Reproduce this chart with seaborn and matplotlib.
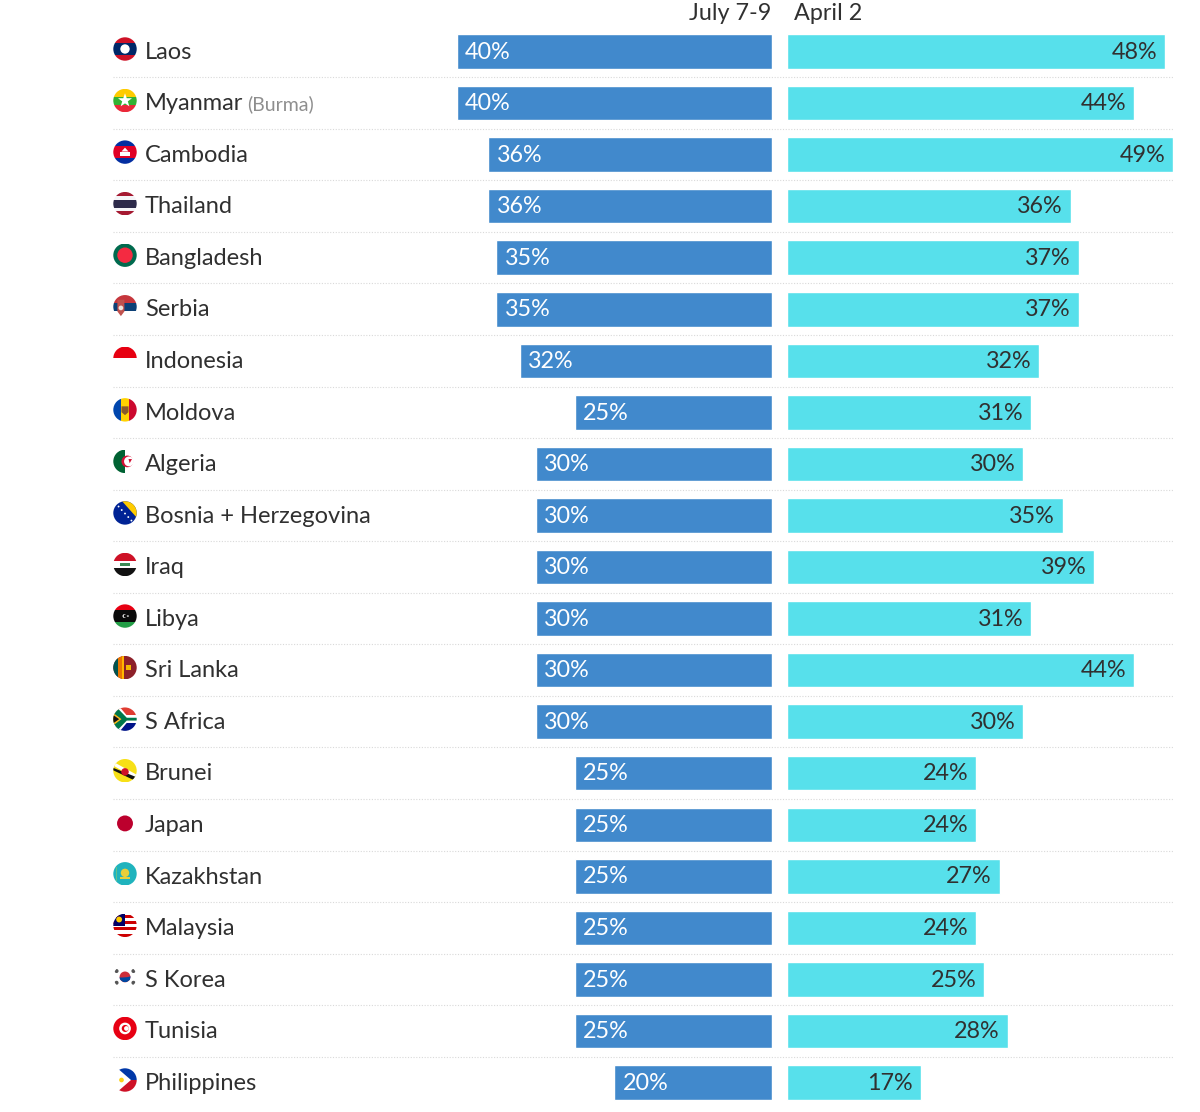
import matplotlib
matplotlib.use('Agg')
import matplotlib.pyplot as plt
from matplotlib.patches import Circle, Polygon, Rectangle
import pandas as pd
import seaborn as sns

countries = ['Laos', 'Myanmar', 'Cambodia', 'Thailand', 'Bangladesh', 'Serbia', 'Indonesia',
             'Moldova', 'Algeria', 'Bosnia + Herzegovina', 'Iraq', 'Libya', 'Sri Lanka',
             'S Africa', 'Brunei', 'Japan', 'Kazakhstan', 'Malaysia', 'S Korea', 'Tunisia',
             'Philippines']
july = [40, 40, 36, 36, 35, 35, 32, 25, 30, 30, 30, 30, 30, 30, 25, 25, 25, 25, 25, 25, 20]
april = [48, 44, 49, 36, 37, 37, 32, 31, 30, 35, 39, 31, 44, 30, 24, 24, 27, 24, 25, 28, 17]

W, H = 1200, 1112
ROW = 51.55
TOP = 51.5 - ROW / 2
BOTTOM = TOP + ROW * len(countries)
PX_PER_PCT = 7.88
BLUE = '#4189cc'
CYAN = '#57e0eb'
DARK = '#303030'

sns.set_style('white')
plt.rcParams['font.family'] = ['Lato', 'DejaVu Sans']

df = pd.DataFrame({'country': countries, 'july': july, 'april': april})
fig = plt.figure(figsize=(W / 100, H / 100), dpi=100)


def panel(x0, x1):
    return fig.add_axes([x0 / W, 1 - BOTTOM / H, (x1 - x0) / W, (BOTTOM - TOP) / H])


# overlay in pixel coordinates for row labels, rules and flags
ov = fig.add_axes([0, 0, 1, 1], zorder=0)
ov.set_xlim(0, W)
ov.set_ylim(H, 0)
ov.axis('off')

left = panel(113, 772)
right = panel(787, 1173)
for ax, col, color in [(left, 'july', BLUE), (right, 'april', CYAN)]:
    sns.barplot(data=df, y='country', x=col, ax=ax, color=color, saturation=1,
                width=34.5 / ROW, orient='h')
    ax.set_ylim(len(countries) - 0.5, -0.5)
    ax.set_xlabel('')
    ax.set_ylabel('')
    ax.set_xticks([])
    ax.set_yticks([])
    ax.patch.set_alpha(0)
    ax.set_zorder(1)
    sns.despine(ax=ax, left=True, bottom=True)
left.set_xlim((772 - 113) / PX_PER_PCT, 0)
right.set_xlim(0, (1173 - 787) / PX_PER_PCT)

for t in left.bar_label(left.containers[0], labels=[f'{v}%' for v in july], padding=-6,
                        color='white', fontsize=16.8):
    t.set_ha('left')
    t.xyann = (t.xyann[0], -0.5)
for t in right.bar_label(right.containers[0], labels=[f'{v}%' for v in april], padding=-5.6,
                         color=DARK, fontsize=16.8):
    t.set_ha('right')
    t.xyann = (t.xyann[0], -0.5)

ov.text(771.5, 13, 'July 7-9', ha='right', va='center', color=DARK, fontsize=16.8)
ov.text(794, 13, 'April 2', ha='left', va='center', color=DARK, fontsize=16.8)

for i, name in enumerate(countries):
    yc = 51.5 + ROW * i
    label = ov.text(145, yc + 0.7, name, ha='left', va='center', color=DARK, fontsize=17)
    if name == 'Myanmar':
        fig.canvas.draw()
        end = label.get_window_extent().x1
        ov.text(end + 4, yc + 1.5, '(Burma)', ha='left', va='center', color='#8e8e8e', fontsize=14)
    if i < len(countries) - 1:
        ov.plot([113, 1173], [yc + ROW / 2] * 2, color='#d9d9d9', lw=0.8, ls=(0, (1, 1.5)))


class Flag:
    """Small round flag, drawn in unit coordinates (v points down)."""

    def __init__(self, row, r=11.7, cx=125, background=None):
        self.cx, self.cy, self.r = cx, 51.5 + ROW * row - 2.5, r
        self.clip = Circle((self.cx, self.cy), r, transform=ov.transData)
        if background:
            self.rect(-1, -1, 1, 1, background)

    def _add(self, patch):
        ov.add_patch(patch)
        patch.set_clip_path(self.clip)

    def rect(self, u0, v0, u1, v1, c):
        self._add(Rectangle((self.cx + u0 * self.r, self.cy + v0 * self.r),
                            (u1 - u0) * self.r, (v1 - v0) * self.r, fc=c, lw=0))

    def poly(self, pts, c):
        self._add(Polygon([(self.cx + u * self.r, self.cy + v * self.r) for u, v in pts], fc=c, lw=0))

    def disc(self, u, v, rad, c):
        self._add(Circle((self.cx + u * self.r, self.cy + v * self.r), rad * self.r, fc=c, lw=0))

    def hbands(self, edges, colors):
        for v0, v1, c in zip(edges[:-1], edges[1:], colors):
            self.rect(-1, v0, 1, v1, c)

    def vbands(self, edges, colors):
        for u0, u1, c in zip(edges[:-1], edges[1:], colors):
            self.rect(u0, -1, u1, 1, c)


STAR = [(0, -.62), (.15, -.2), (.6, -.2), (.24, .07), (.37, .5), (0, .24), (-.37, .5), (-.24, .07), (-.6, -.2), (-.15, -.2)]

f = Flag(0)
f.hbands([-1, -.5, .5, 1], ['#ce1126', '#002868', '#ce1126'])
f.disc(0, 0, .4, 'white')

f = Flag(1)
f.hbands([-1, -.34, .34, 1], ['#fecb00', '#34b233', '#ea2839'])
f.poly(STAR, 'white')

f = Flag(2)
f.hbands([-1, -.5, .5, 1], ['#032ea1', '#e00025', '#032ea1'])
f.rect(-.45, -.05, .45, .3, 'white')
f.poly([(-.3, -.05), (0, -.38), (.3, -.05)], 'white')

f = Flag(3)
f.hbands([-1, -.67, -.33, .33, .67, 1], ['#a51931', '#f4f5f8', '#2d2a4a', '#f4f5f8', '#a51931'])

f = Flag(4, background='#006a4e')
f.disc(0, 0, .66, '#f42a41')

f = Flag(5)
f.hbands([-1, -.33, .33, 1], ['#c6363c', '#0c4076', 'white'])
f.poly([(-.65, -.6), (-.05, -.6), (-.05, .4), (-.35, .8), (-.65, .4)], '#c0524f')
f.disc(-.35, .1, .2, '#f0e6de')

f = Flag(6)
f.hbands([-1, 0], ['#e70011'])

f = Flag(7)
f.vbands([-1, -.33, .33, 1], ['#0046ae', '#ffd200', '#cc092f'])
f.poly([(-.3, -.3), (.3, -.3), (.3, .2), (0, .45), (-.3, .2)], '#8a5a2b')

f = Flag(8)
f.vbands([-1, 0], ['#006233'])
f.disc(.2, 0, .5, '#d21034')
f.disc(.34, 0, .42, 'white')
f.poly([(.3, -.2), (.6, -.2), (.4, .15)], '#d21034')

f = Flag(9, background='#002395')
f.poly([(-.3, -1.1), (1.1, -1.1), (1.1, .5)], '#fecb00')
for s in [(-.55, -.55), (-.28, -.25), (0, .05), (.28, .35), (.55, .65)]:
    f.disc(s[0], s[1], .08, 'white')

f = Flag(10)
f.hbands([-1, -.33, .33, 1], ['#ce1126', 'white', '#111111'])
f.rect(-.45, -.1, .45, .1, '#3b8a55')

f = Flag(11)
f.hbands([-1, -.5, .5, 1], ['#e70013', '#0a0a0a', '#239e46'])
f.disc(-.05, 0, .16, 'white')
f.disc(.02, 0, .13, '#0a0a0a')
f.disc(.25, 0, .07, 'white')

f = Flag(12, background='#8d2029')
f.vbands([-1, -.62, -.25, -.1], ['#00534e', '#eb7400', '#ffb700'])
f.rect(.1, -.2, .55, .2, '#f5b800')

f = Flag(13, background='white')
f.hbands([-1, -.33, .33, 1], ['#e03c31', 'white', '#001489'])
f.poly([(-1.1, -1.1), (-.5, -1.1), (.25, -.2), (1.1, -.2), (1.1, .2), (.25, .2), (-.5, 1.1), (-1.1, 1.1)], 'white')
f.poly([(-1.1, -.95), (-.65, -.95), (.15, -.12), (1.1, -.12), (1.1, .12), (.15, .12), (-.65, .95), (-1.1, .95)], '#007749')
f.poly([(-1.1, -.6), (-.3, 0), (-1.1, .6)], '#ffb81c')
f.poly([(-1.1, -.42), (-.5, 0), (-1.1, .42)], '#111111')

f = Flag(14, background='#f7e017')
f.poly([(-1.1, -.5), (-.8, -.65), (1.1, .4), (1.1, .8)], 'white')
f.poly([(-1.1, -.28), (-1.1, -.08), (.85, .85), (1.1, .6)], '#111111')
f.disc(0, .1, .32, '#cf1126')

f = Flag(15)
f.disc(0, .1, .68, '#bc002d')

f = Flag(16, background='#1fb3bd')
f.disc(0, -.08, .36, '#e8cf3a')
f.rect(-.4, .3, .4, .42, '#e8cf3a')
f.rect(-.8, -.6, -.68, .6, '#5fc08c')

f = Flag(17, background='white')
f.hbands([-.86, -.6, -.34, -.08, .18, .44, .7, 1], ['#cc0001', 'white', '#cc0001', 'white', '#cc0001', 'white', '#cc0001'])
f.rect(-1, -1, 0, .05, '#010066')
f.disc(-.5, -.5, .25, '#ffcc00')

f = Flag(18)
f.disc(0, 0, .46, '#cd2e3a')
f.poly([(-.48, .05), (-.2, .05), (.2, .02), (.48, -.05), (.42, .25), (.15, .44), (-.15, .44), (-.4, .25)], '#0047a0')
for u, v in [(-.72, -.5), (.72, -.5), (-.72, .5), (.72, .5)]:
    f.disc(u, v, .17, '#555555')

f = Flag(19, background='#e70013')
f.disc(0, 0, .5, 'white')
f.disc(.02, 0, .3, '#e70013')
f.disc(.12, 0, .2, 'white')

f = Flag(20, background='white')
f.poly([(-.75, -1.1), (1.1, -1.1), (1.1, 0), (.55, 0)], '#0038a8')
f.poly([(-.75, 1.1), (1.1, 1.1), (1.1, 0), (.55, 0)], '#ce1126')
f.disc(-.3, 0, .2, '#fcd116')

fig.savefig('out.png', dpi=100)
